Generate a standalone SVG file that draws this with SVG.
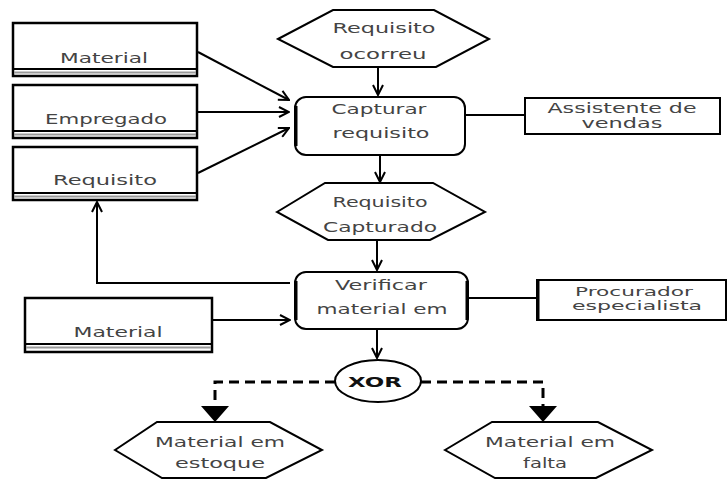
<svg xmlns="http://www.w3.org/2000/svg" width="728" height="481" viewBox="0 0 728 481">
  <style>
    .store { fill: #fff; stroke: #000; stroke-width: 2.5; }
    .store-line { stroke: #000; stroke-width: 2; }
    .store-gray { stroke: #999; stroke-width: 2; }
    .event { fill: #fff; stroke: #000; stroke-width: 2; stroke-linejoin: miter; }
    .func { fill: #fff; stroke: #000; stroke-width: 2; }
    .side { stroke: #000; stroke-width: 3; }
    .actor { fill: #fff; stroke: #000; stroke-width: 2; }
    .link { fill: none; stroke: #000; stroke-width: 2; }
    .flow { fill: none; stroke: #000; stroke-width: 2; marker-end: url(#open); }
    .dash { fill: none; stroke: #000; stroke-width: 3; stroke-dasharray: 10 6; }
    .t { font-family: "DejaVu Sans", Verdana, sans-serif; font-size: 14px; fill: #444; text-anchor: middle; }
    .s { font-size: 12px; }
    .b { font-family: "DejaVu Sans", Verdana, sans-serif; font-size: 14px; font-weight: bold; fill: #111; text-anchor: middle; }
  </style>
  <defs>
    <marker id="open" viewBox="0 0 12 12" refX="11" refY="6" markerWidth="12" markerHeight="12" markerUnits="userSpaceOnUse" orient="auto">
      <path d="M1,1 L11,6 L1,11" fill="none" stroke="#000" stroke-width="2"/>
    </marker>
  </defs>

  <!-- data stores -->
  <g id="material1">
    <rect class="store" x="13" y="23" width="184" height="53"/>
    <line class="store-line" x1="13" y1="69" x2="197" y2="69"/>
    <line class="store-gray" x1="14" y1="72.5" x2="196" y2="72.5"/>
    <text class="t" x="104" y="63" textLength="88" lengthAdjust="spacingAndGlyphs">Material</text>
  </g>
  <g id="empregado">
    <rect class="store" x="13" y="85" width="184" height="53"/>
    <line class="store-line" x1="13" y1="131" x2="197" y2="131"/>
    <line class="store-gray" x1="14" y1="134.5" x2="196" y2="134.5"/>
    <text class="t" x="106" y="124" textLength="122" lengthAdjust="spacingAndGlyphs">Empregado</text>
  </g>
  <g id="requisito">
    <rect class="store" x="13" y="147" width="184" height="53"/>
    <line class="store-line" x1="13" y1="193" x2="197" y2="193"/>
    <line class="store-gray" x1="14" y1="196.5" x2="196" y2="196.5"/>
    <text class="t" x="105" y="185" textLength="104" lengthAdjust="spacingAndGlyphs">Requisito</text>
  </g>
  <g id="material2">
    <rect class="store" x="25" y="298" width="187" height="54"/>
    <line class="store-line" x1="25" y1="344" x2="212" y2="344"/>
    <line class="store-gray" x1="26" y1="347.5" x2="211" y2="347.5"/>
    <text class="t" x="118" y="337" textLength="89" lengthAdjust="spacingAndGlyphs">Material</text>
  </g>

  <!-- events -->
  <g id="requisito-ocorreu">
    <polygon class="event" points="278,39 333,10 434,10 489,39 436,67 333,67"/>
    <text class="t" x="384" y="33" textLength="103" lengthAdjust="spacingAndGlyphs">Requisito</text>
    <text class="t" x="383" y="59" textLength="87" lengthAdjust="spacingAndGlyphs">ocorreu</text>
  </g>
  <g id="requisito-capturado">
    <polygon class="event" points="277,212 325,183 433,183 485,212 430,240 328,240"/>
    <text class="t" x="380" y="207" textLength="95" lengthAdjust="spacingAndGlyphs">Requisito</text>
    <text class="t" x="380" y="232" textLength="114" lengthAdjust="spacingAndGlyphs">Capturado</text>
  </g>
  <g id="material-em-estoque">
    <polygon class="event" points="115,450 157,422 270,422 322,450 266,478 162,478"/>
    <text class="t" x="220" y="447" textLength="130" lengthAdjust="spacingAndGlyphs">Material em</text>
    <text class="t" x="220" y="468" textLength="90" lengthAdjust="spacingAndGlyphs">estoque</text>
  </g>
  <g id="material-em-falta">
    <polygon class="event" points="445,450 492,422 598,422 652,450 596,478 495,478"/>
    <text class="t" x="550" y="447" textLength="130" lengthAdjust="spacingAndGlyphs">Material em</text>
    <text class="t" x="545" y="468" textLength="44" lengthAdjust="spacingAndGlyphs">falta</text>
  </g>

  <!-- functions -->
  <g id="capturar-requisito">
    <rect class="func" x="295" y="97" width="170" height="58" rx="11"/>
    <line class="side" x1="296" y1="106" x2="296" y2="146"/>
    <text class="t" x="379" y="114" textLength="95" lengthAdjust="spacingAndGlyphs">Capturar</text>
    <text class="t" x="381" y="138" textLength="97" lengthAdjust="spacingAndGlyphs">requisito</text>
  </g>
  <g id="verificar-material">
    <rect class="func" x="295" y="272" width="173" height="57" rx="11"/>
    <line class="side" x1="296" y1="281" x2="296" y2="320"/>
    <line class="side" x1="467" y1="281" x2="467" y2="320"/>
    <text class="t" x="381" y="290" textLength="92" lengthAdjust="spacingAndGlyphs">Verificar</text>
    <text class="t" x="382" y="314" textLength="131" lengthAdjust="spacingAndGlyphs">material em</text>
  </g>

  <!-- organisational units -->
  <g id="assistente-de-vendas">
    <rect class="actor" x="525" y="98" width="195" height="36"/>
    <text class="t" x="622" y="113" textLength="149" lengthAdjust="spacingAndGlyphs">Assistente de</text>
    <text class="t" x="622" y="128" textLength="81" lengthAdjust="spacingAndGlyphs">vendas</text>
  </g>
  <g id="procurador-especialista">
    <rect class="actor" x="537" y="280" width="189" height="40"/>
    <line class="side" x1="538" y1="280" x2="538" y2="320"/>
    <text class="t s" x="634" y="296" textLength="118" lengthAdjust="spacingAndGlyphs">Procurador</text>
    <text class="t s" x="637" y="310" textLength="130" lengthAdjust="spacingAndGlyphs">especialista</text>
  </g>

  <!-- XOR connector -->
  <g id="xor">
    <ellipse cx="378" cy="381" rx="43" ry="21" fill="#fff" stroke="#000" stroke-width="2"/>
    <text class="b" x="375" y="387" textLength="54" lengthAdjust="spacingAndGlyphs">XOR</text>
  </g>

  <!-- connectors -->
  <g id="connectors">
    <line class="flow" x1="198" y1="52" x2="289" y2="100"/>
    <line class="flow" x1="198" y1="112" x2="289" y2="112"/>
    <line class="flow" x1="198" y1="173" x2="289" y2="128"/>
    <line class="flow" x1="378" y1="67" x2="378" y2="95"/>
    <line class="flow" x1="380" y1="155" x2="380" y2="182"/>
    <line class="flow" x1="377" y1="240" x2="377" y2="270"/>
    <line class="flow" x1="377" y1="329" x2="377" y2="358"/>
    <polyline class="flow" points="290,283 97,283 97,202"/>
    <line class="flow" x1="212" y1="320" x2="290" y2="320"/>
    <line class="link" x1="465" y1="115" x2="525" y2="115" stroke-width="1.5"/>
    <line class="link" x1="468" y1="298" x2="537" y2="298"/>
    <polyline class="dash" points="335,382 215,382 215,406"/>
    <polygon points="201,406 229,406 215,422" fill="#000"/>
    <polyline class="dash" points="421,382 543,382 543,406"/>
    <polygon points="529,406 557,406 543,422" fill="#000"/>
  </g>
</svg>
